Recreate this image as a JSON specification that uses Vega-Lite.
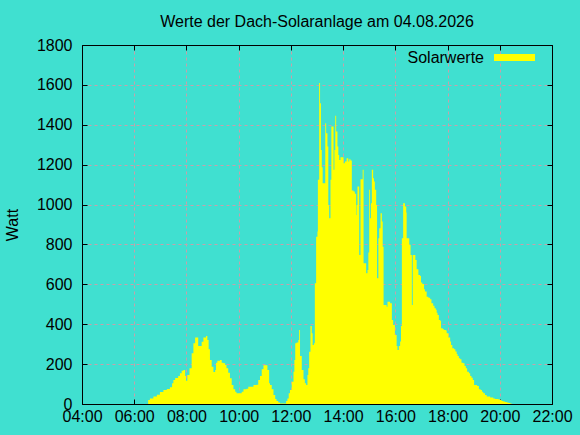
{
  "$schema": "https://vega.github.io/schema/vega-lite/v6.json",
  "width": 470,
  "height": 359,
  "autosize": "none",
  "padding": {"left": 82, "top": 45, "right": 28, "bottom": 31},
  "background": "#40e0d0",
  "title": {
    "text": "Werte der Dach-Solaranlage am 04.08.2026",
    "font": "Liberation Sans",
    "fontSize": 16,
    "fontWeight": "normal",
    "color": "#000000",
    "offset": 7
  },
  "config": {
    "view": {"stroke": "#000000", "strokeWidth": 1},
    "font": "Liberation Sans",
    "axis": {
      "labelFont": "Liberation Sans",
      "labelFontSize": 16,
      "labelColor": "#000000",
      "titleFont": "Liberation Sans",
      "titleFontSize": 16,
      "titleFontWeight": "normal",
      "titleColor": "#000000",
      "tickColor": "#000000",
      "tickSize": -5,
      "domain": true,
      "domainColor": "#000000",
      "gridColor": "#c8a0aa",
      "gridDash": [3, 3],
      "gridOpacity": 1
    }
  },
  "data": {
    "values": [
      {"t": "2026-08-04T06:32Z", "w": 20}, {"t": "2026-08-04T06:36Z", "w": 27}, {"t": "2026-08-04T06:44Z", "w": 37}, {"t": "2026-08-04T06:52Z", "w": 47},
      {"t": "2026-08-04T06:59Z", "w": 60}, {"t": "2026-08-04T07:07Z", "w": 70}, {"t": "2026-08-04T07:15Z", "w": 75}, {"t": "2026-08-04T07:22Z", "w": 84},
      {"t": "2026-08-04T07:27Z", "w": 104}, {"t": "2026-08-04T07:30Z", "w": 120}, {"t": "2026-08-04T07:34Z", "w": 130}, {"t": "2026-08-04T07:41Z", "w": 140},
      {"t": "2026-08-04T07:45Z", "w": 154}, {"t": "2026-08-04T07:49Z", "w": 167}, {"t": "2026-08-04T07:53Z", "w": 170}, {"t": "2026-08-04T07:57Z", "w": 140},
      {"t": "2026-08-04T07:59Z", "w": 117}, {"t": "2026-08-04T08:02Z", "w": 145}, {"t": "2026-08-04T08:07Z", "w": 179}, {"t": "2026-08-04T08:12Z", "w": 254},
      {"t": "2026-08-04T08:16Z", "w": 304}, {"t": "2026-08-04T08:20Z", "w": 334}, {"t": "2026-08-04T08:27Z", "w": 291}, {"t": "2026-08-04T08:35Z", "w": 312},
      {"t": "2026-08-04T08:39Z", "w": 334}, {"t": "2026-08-04T08:45Z", "w": 341}, {"t": "2026-08-04T08:48Z", "w": 321}, {"t": "2026-08-04T08:51Z", "w": 274},
      {"t": "2026-08-04T08:54Z", "w": 221}, {"t": "2026-08-04T08:58Z", "w": 187}, {"t": "2026-08-04T09:02Z", "w": 160}, {"t": "2026-08-04T09:06Z", "w": 170},
      {"t": "2026-08-04T09:08Z", "w": 207}, {"t": "2026-08-04T09:11Z", "w": 217}, {"t": "2026-08-04T09:17Z", "w": 221}, {"t": "2026-08-04T09:21Z", "w": 207},
      {"t": "2026-08-04T09:25Z", "w": 204}, {"t": "2026-08-04T09:29Z", "w": 196}, {"t": "2026-08-04T09:32Z", "w": 179}, {"t": "2026-08-04T09:36Z", "w": 157},
      {"t": "2026-08-04T09:40Z", "w": 129}, {"t": "2026-08-04T09:44Z", "w": 95}, {"t": "2026-08-04T09:48Z", "w": 74}, {"t": "2026-08-04T09:52Z", "w": 62},
      {"t": "2026-08-04T09:55Z", "w": 54}, {"t": "2026-08-04T10:07Z", "w": 62}, {"t": "2026-08-04T10:11Z", "w": 74}, {"t": "2026-08-04T10:18Z", "w": 76},
      {"t": "2026-08-04T10:22Z", "w": 87}, {"t": "2026-08-04T10:34Z", "w": 95}, {"t": "2026-08-04T10:41Z", "w": 96}, {"t": "2026-08-04T10:45Z", "w": 120},
      {"t": "2026-08-04T10:49Z", "w": 140}, {"t": "2026-08-04T10:53Z", "w": 174}, {"t": "2026-08-04T10:57Z", "w": 194}, {"t": "2026-08-04T11:06Z", "w": 170},
      {"t": "2026-08-04T11:10Z", "w": 104}, {"t": "2026-08-04T11:12Z", "w": 95}, {"t": "2026-08-04T11:16Z", "w": 74}, {"t": "2026-08-04T11:20Z", "w": 45},
      {"t": "2026-08-04T11:24Z", "w": 25}, {"t": "2026-08-04T11:27Z", "w": 15}, {"t": "2026-08-04T11:31Z", "w": 8}, {"t": "2026-08-04T11:35Z", "w": 3},
      {"t": "2026-08-04T11:49Z", "w": 15}, {"t": "2026-08-04T11:52Z", "w": 28}, {"t": "2026-08-04T11:55Z", "w": 54}, {"t": "2026-08-04T11:58Z", "w": 70},
      {"t": "2026-08-04T12:02Z", "w": 112}, {"t": "2026-08-04T12:06Z", "w": 162}, {"t": "2026-08-04T12:08Z", "w": 221}, {"t": "2026-08-04T12:10Z", "w": 304},
      {"t": "2026-08-04T12:13Z", "w": 308}, {"t": "2026-08-04T12:17Z", "w": 321}, {"t": "2026-08-04T12:19Z", "w": 371}, {"t": "2026-08-04T12:21Z", "w": 241},
      {"t": "2026-08-04T12:25Z", "w": 171}, {"t": "2026-08-04T12:29Z", "w": 124}, {"t": "2026-08-04T12:32Z", "w": 104}, {"t": "2026-08-04T12:35Z", "w": 95},
      {"t": "2026-08-04T12:38Z", "w": 145}, {"t": "2026-08-04T12:40Z", "w": 179}, {"t": "2026-08-04T12:42Z", "w": 262}, {"t": "2026-08-04T12:45Z", "w": 391},
      {"t": "2026-08-04T12:48Z", "w": 355}, {"t": "2026-08-04T12:50Z", "w": 296}, {"t": "2026-08-04T12:53Z", "w": 304}, {"t": "2026-08-04T12:55Z", "w": 605},
      {"t": "2026-08-04T12:58Z", "w": 839}, {"t": "2026-08-04T13:01Z", "w": 865}, {"t": "2026-08-04T13:02Z", "w": 1124}, {"t": "2026-08-04T13:05Z", "w": 1609},
      {"t": "2026-08-04T13:07Z", "w": 1508}, {"t": "2026-08-04T13:09Z", "w": 1274}, {"t": "2026-08-04T13:11Z", "w": 1187}, {"t": "2026-08-04T13:13Z", "w": 1107},
      {"t": "2026-08-04T13:19Z", "w": 1408}, {"t": "2026-08-04T13:21Z", "w": 1358}, {"t": "2026-08-04T13:24Z", "w": 1291}, {"t": "2026-08-04T13:26Z", "w": 998},
      {"t": "2026-08-04T13:28Z", "w": 931}, {"t": "2026-08-04T13:31Z", "w": 1124}, {"t": "2026-08-04T13:33Z", "w": 1391}, {"t": "2026-08-04T13:38Z", "w": 1174},
      {"t": "2026-08-04T13:40Z", "w": 1274}, {"t": "2026-08-04T13:42Z", "w": 1445}, {"t": "2026-08-04T13:44Z", "w": 1366}, {"t": "2026-08-04T13:47Z", "w": 1291},
      {"t": "2026-08-04T13:49Z", "w": 1249}, {"t": "2026-08-04T13:51Z", "w": 1224}, {"t": "2026-08-04T13:54Z", "w": 1237}, {"t": "2026-08-04T14:01Z", "w": 1207},
      {"t": "2026-08-04T14:04Z", "w": 1216}, {"t": "2026-08-04T14:08Z", "w": 1232}, {"t": "2026-08-04T14:12Z", "w": 1216}, {"t": "2026-08-04T14:14Z", "w": 1227},
      {"t": "2026-08-04T14:17Z", "w": 1221}, {"t": "2026-08-04T14:20Z", "w": 1070}, {"t": "2026-08-04T14:24Z", "w": 1065}, {"t": "2026-08-04T14:27Z", "w": 1054},
      {"t": "2026-08-04T14:30Z", "w": 948}, {"t": "2026-08-04T14:31Z", "w": 998}, {"t": "2026-08-04T14:33Z", "w": 1090}, {"t": "2026-08-04T14:37Z", "w": 747},
      {"t": "2026-08-04T14:40Z", "w": 1127}, {"t": "2026-08-04T14:45Z", "w": 1174}, {"t": "2026-08-04T14:47Z", "w": 706}, {"t": "2026-08-04T14:53Z", "w": 656},
      {"t": "2026-08-04T14:56Z", "w": 672}, {"t": "2026-08-04T14:58Z", "w": 759}, {"t": "2026-08-04T15:00Z", "w": 1074}, {"t": "2026-08-04T15:02Z", "w": 931},
      {"t": "2026-08-04T15:04Z", "w": 1007}, {"t": "2026-08-04T15:06Z", "w": 1174}, {"t": "2026-08-04T15:09Z", "w": 1132}, {"t": "2026-08-04T15:11Z", "w": 1115},
      {"t": "2026-08-04T15:13Z", "w": 1074}, {"t": "2026-08-04T15:16Z", "w": 998}, {"t": "2026-08-04T15:18Z", "w": 630}, {"t": "2026-08-04T15:21Z", "w": 831},
      {"t": "2026-08-04T15:23Z", "w": 881}, {"t": "2026-08-04T15:26Z", "w": 957}, {"t": "2026-08-04T15:29Z", "w": 915}, {"t": "2026-08-04T15:31Z", "w": 789},
      {"t": "2026-08-04T15:33Z", "w": 497}, {"t": "2026-08-04T15:40Z", "w": 488}, {"t": "2026-08-04T15:42Z", "w": 513}, {"t": "2026-08-04T15:48Z", "w": 505},
      {"t": "2026-08-04T15:52Z", "w": 421}, {"t": "2026-08-04T15:55Z", "w": 396}, {"t": "2026-08-04T15:59Z", "w": 346}, {"t": "2026-08-04T16:03Z", "w": 291},
      {"t": "2026-08-04T16:05Z", "w": 271}, {"t": "2026-08-04T16:08Z", "w": 291}, {"t": "2026-08-04T16:11Z", "w": 313}, {"t": "2026-08-04T16:13Z", "w": 391},
      {"t": "2026-08-04T16:15Z", "w": 831}, {"t": "2026-08-04T16:18Z", "w": 1007}, {"t": "2026-08-04T16:22Z", "w": 990}, {"t": "2026-08-04T16:25Z", "w": 960},
      {"t": "2026-08-04T16:26Z", "w": 831}, {"t": "2026-08-04T16:32Z", "w": 798}, {"t": "2026-08-04T16:35Z", "w": 747}, {"t": "2026-08-04T16:38Z", "w": 497},
      {"t": "2026-08-04T16:40Z", "w": 747}, {"t": "2026-08-04T16:46Z", "w": 722}, {"t": "2026-08-04T16:49Z", "w": 676}, {"t": "2026-08-04T16:53Z", "w": 647},
      {"t": "2026-08-04T16:57Z", "w": 642}, {"t": "2026-08-04T16:59Z", "w": 609}, {"t": "2026-08-04T17:02Z", "w": 602}, {"t": "2026-08-04T17:06Z", "w": 575},
      {"t": "2026-08-04T17:08Z", "w": 564}, {"t": "2026-08-04T17:12Z", "w": 538}, {"t": "2026-08-04T17:16Z", "w": 533}, {"t": "2026-08-04T17:20Z", "w": 525},
      {"t": "2026-08-04T17:23Z", "w": 505}, {"t": "2026-08-04T17:27Z", "w": 492}, {"t": "2026-08-04T17:30Z", "w": 480}, {"t": "2026-08-04T17:33Z", "w": 472},
      {"t": "2026-08-04T17:35Z", "w": 458}, {"t": "2026-08-04T17:37Z", "w": 446}, {"t": "2026-08-04T17:40Z", "w": 421}, {"t": "2026-08-04T17:43Z", "w": 418},
      {"t": "2026-08-04T17:45Z", "w": 380}, {"t": "2026-08-04T17:49Z", "w": 375}, {"t": "2026-08-04T17:52Z", "w": 371}, {"t": "2026-08-04T17:56Z", "w": 368},
      {"t": "2026-08-04T17:58Z", "w": 355}, {"t": "2026-08-04T18:02Z", "w": 334}, {"t": "2026-08-04T18:06Z", "w": 313}, {"t": "2026-08-04T18:08Z", "w": 296},
      {"t": "2026-08-04T18:11Z", "w": 279}, {"t": "2026-08-04T18:15Z", "w": 274}, {"t": "2026-08-04T18:18Z", "w": 263}, {"t": "2026-08-04T18:21Z", "w": 251},
      {"t": "2026-08-04T18:23Z", "w": 241}, {"t": "2026-08-04T18:26Z", "w": 229}, {"t": "2026-08-04T18:29Z", "w": 224}, {"t": "2026-08-04T18:32Z", "w": 207},
      {"t": "2026-08-04T18:36Z", "w": 204}, {"t": "2026-08-04T18:39Z", "w": 191}, {"t": "2026-08-04T18:42Z", "w": 179}, {"t": "2026-08-04T18:45Z", "w": 162},
      {"t": "2026-08-04T18:49Z", "w": 154}, {"t": "2026-08-04T18:52Z", "w": 140}, {"t": "2026-08-04T18:55Z", "w": 132}, {"t": "2026-08-04T18:58Z", "w": 120},
      {"t": "2026-08-04T19:01Z", "w": 95}, {"t": "2026-08-04T19:08Z", "w": 90}, {"t": "2026-08-04T19:12Z", "w": 74}, {"t": "2026-08-04T19:16Z", "w": 70},
      {"t": "2026-08-04T19:19Z", "w": 62}, {"t": "2026-08-04T19:22Z", "w": 54}, {"t": "2026-08-04T19:26Z", "w": 45}, {"t": "2026-08-04T19:30Z", "w": 37},
      {"t": "2026-08-04T19:38Z", "w": 33}, {"t": "2026-08-04T19:41Z", "w": 32}, {"t": "2026-08-04T19:45Z", "w": 28}, {"t": "2026-08-04T19:49Z", "w": 25},
      {"t": "2026-08-04T19:57Z", "w": 22}, {"t": "2026-08-04T20:01Z", "w": 20}, {"t": "2026-08-04T20:04Z", "w": 15}, {"t": "2026-08-04T20:08Z", "w": 13},
      {"t": "2026-08-04T20:12Z", "w": 10}, {"t": "2026-08-04T20:16Z", "w": 8}, {"t": "2026-08-04T20:20Z", "w": 5}, {"t": "2026-08-04T20:24Z", "w": 3},
      {"t": "2026-08-04T20:27Z", "w": 0}
    ]
  },
  "resolve": {"axis": {"x": "independent", "y": "independent"}},
  "layer": [
    {
      "mark": {"type": "area", "interpolate": "step-after"},
      "encoding": {
        "x": {
          "field": "t",
          "type": "temporal",
          "scale": {
            "type": "utc",
            "domain": [1785816000000, 1785880800000],
            "nice": false
          },
          "axis": {
            "title": null,
            "labelExpr": "utcFormat(datum.value, '%H:%M')",
            "values": [1785816000000, 1785823200000, 1785830400000, 1785837600000, 1785844800000, 1785852000000, 1785859200000, 1785866400000, 1785873600000, 1785880800000],
            "labelPadding": 9,
            "labelFlush": false,
            "grid": true
          }
        },
        "y": {
          "field": "w",
          "type": "quantitative",
          "scale": {"domain": [0, 1800], "nice": false},
          "axis": {
            "title": "Watt",
            "format": "d",
            "values": [0, 200, 400, 600, 800, 1000, 1200, 1400, 1600, 1800],
            "labelPadding": 15,
            "labelFlush": false,
            "titlePadding": 16,
            "grid": true
          }
        },
        "color": {
          "datum": "Solarwerte",
          "type": "nominal",
          "scale": {"range": ["#ffff00"]},
          "legend": {
            "title": null,
            "orient": "none",
            "legendX": 412,
            "legendY": -8,
            "symbolType": "M-1,-0.17L1,-0.17L1,0.17L-1,0.17Z",
            "symbolSize": 1681,
            "symbolStrokeWidth": 0,
            "symbolOpacity": 1,
            "labelFont": "Liberation Sans",
            "labelFontSize": 16,
            "labelColor": "#000000",
            "labelAlign": "right",
            "labelOffset": -51
          }
        }
      }
    },
    {
      "mark": {"type": "area", "interpolate": "step-after", "opacity": 0},
      "encoding": {
        "x": {
          "field": "t",
          "type": "temporal",
          "axis": {
            "orient": "top",
            "title": null,
            "labels": false,
            "grid": false,
            "zindex": 1,
            "values": [1785816000000, 1785823200000, 1785830400000, 1785837600000, 1785844800000, 1785852000000, 1785859200000, 1785866400000, 1785873600000, 1785880800000]
          }
        },
        "y": {
          "field": "w",
          "type": "quantitative",
          "axis": {
            "orient": "right",
            "title": null,
            "labels": false,
            "grid": false,
            "zindex": 1,
            "values": [0, 200, 400, 600, 800, 1000, 1200, 1400, 1600, 1800]
          }
        }
      }
    }
  ]
}
